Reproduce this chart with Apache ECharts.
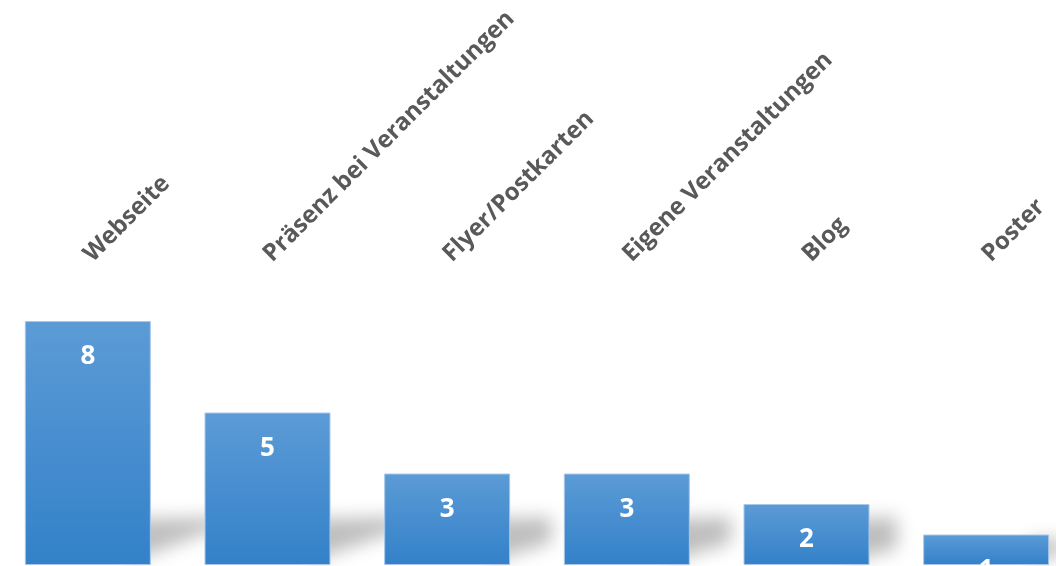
<!DOCTYPE html>
<html><head><meta charset="utf-8">
<script src="https://cdn.jsdelivr.net/npm/echarts@6/dist/echarts.min.js"></script>
<style>html,body{margin:0;padding:0;background:#fff;overflow:hidden}#c{position:absolute;left:-2px;top:0;width:1078px;height:566px}</style>
</head><body><div id="c"></div>
<script>
const categories = ['Webseite', 'Präsenz bei Veranstaltungen', 'Flyer/Postkarten', 'Eigene Veranstaltungen', 'Blog', 'Poster'];
const values = [8, 5, 3, 3, 2, 1];

const BAR_W = 126;
const chart = echarts.init(document.getElementById('c'));
chart.setOption({
  animation: false,
  grid: { left: 0, right: 0, top: 260, bottom: 1, containLabel: false },
  xAxis: [
    { type: 'category', data: categories, position: 'bottom',
      axisLine: { show: false }, axisTick: { show: false }, axisLabel: { show: false } },
    { type: 'category', data: categories, position: 'top',
      axisLine: { show: false }, axisTick: { show: false },
      axisLabel: { rotate: -45, margin: 2, color: '#595959', fontSize: 24, fontWeight: 'bold', fontFamily: 'Open Sans', interval: 0 } }
  ],
  yAxis: { type: 'value', min: 0, max: 10, show: false, splitLine: { show: false } },
  series: [
    {
      type: 'custom', z: 1, silent: true,
      data: values.map((v, i) => [i, v]),
      renderItem: function (params, api) {
        const top = api.coord([api.value(0), api.value(1)]);
        const base = api.coord([api.value(0), 0]);
        const xr = top[0] + BAR_W / 2;
        const yb = base[1];
        const h = yb - top[1];
        const len = 0.45 * h, rise = 0.2 * h, sh = Math.min(46, 0.8 * h);
        const OFF = 3000;
        const pts = [
          [xr - 20, yb - 4], [xr - 20, yb - sh], [xr + len, yb - sh - 2], [xr + len, yb - 4 - rise]
        ].map(p => [p[0], p[1] + OFF]);
        return {
          type: 'polygon', shape: { points: pts },
          style: { fill: '#000', shadowBlur: 18, shadowColor: 'rgba(0,0,0,0.26)', shadowOffsetY: -OFF }
        };
      }
    },
    {
      type: 'bar', data: values, barWidth: BAR_W, z: 2,
      itemStyle: {
        color: new echarts.graphic.LinearGradient(0, 0, 0, 1, [
          { offset: 0, color: '#5c9bd6' }, { offset: 1, color: '#3381c9' }
        ]),
        borderColor: '#a9c8ea', borderWidth: 1
      },
      label: { show: true, position: 'insideTop', distance: 23, color: '#fff', fontSize: 26, fontWeight: 'bold', fontFamily: 'Open Sans' }
    }
  ]
});
</script></body></html>
